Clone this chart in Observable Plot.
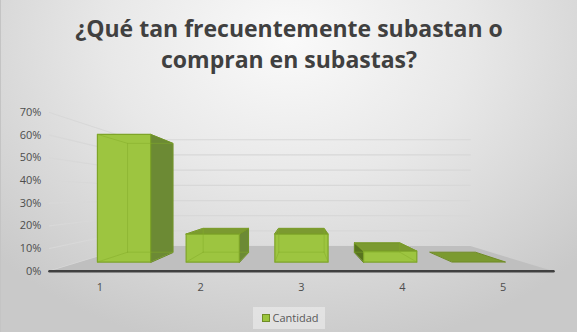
<!DOCTYPE html>
<html>
<head>
<meta charset="utf-8">
<script src="https://cdn.jsdelivr.net/npm/d3@7"></script>
<script src="https://cdn.jsdelivr.net/npm/@observablehq/plot@0.6"></script>
<style>
  html, body { margin: 0; padding: 0; }
  #chart {
    width: 577px; height: 332px; overflow: hidden; box-sizing: border-box;
    border-left: 1px solid #c4c4c4;
    background: radial-gradient(ellipse 70% 95% at 50% 12%, #fafafa 0%, #e8e8e8 45%, #c9c9c9 100%);
    font-family: "Open Sans", sans-serif;
  }
  #title {
    height: 85px; box-sizing: border-box; padding-top: 13px;
    text-align: center; font-weight: bold; font-size: 23px; line-height: 31px; color: #404040;
  }
  #plot svg { display: block; background: transparent; }
  #legend { height: 32px; text-align: center; padding-top: 5px; box-sizing: border-box; }
  #legend .box {
    display: inline-block; height: 22px; line-height: 22px; padding: 0 6px 0 9px;
    background: rgba(240,240,240,0.55); font-size: 11px; color: #595959;
  }
  #legend .sw {
    display: inline-block; width: 6px; height: 6px; background: #9bc53c; border: 1px solid #6f8c26;
    margin-right: 2px; vertical-align: -0px;
  }
</style>
</head>
<body>
<div id="chart">
  <div id="title">¿Qué tan frecuentemente subastan o<br>compran en subastas?</div>
  <div id="plot"></div>
  <div id="legend"><span class="box"><span class="sw"></span>Cantidad</span></div>
</div>
<script>
// ---- data ----
const categories = ["1", "2", "3", "4", "5"];
const values = [0.64, 0.14, 0.14, 0.055, 0];
const yTicks = [0, 0.1, 0.2, 0.3, 0.4, 0.5, 0.6, 0.7];
const seriesName = "Cantidad";

// ---- pseudo-3D projection in data space ----
const vpX = 3.0, vpV = 0.335;       // vanishing point (data units)
const sFront = 1, sBarFront = 0.88, sBarBack = 0.75, sWall = 0.67;
const halfW = 0.3;
const xMin = 0.5, xMax = 5.5;
const P = (X, V, s) => ({x: vpX + (X - vpX) * s, y: vpV + (V - vpV) * s});

function poly(id, pts) { return pts.map((p, k) => ({id, k, ...p})); }

// floor
const floor = poly("floor", [P(xMin, 0, sFront), P(xMax, 0, sFront), P(xMax, 0, sWall), P(xMin, 0, sWall)]);
const axisLine = poly("axis", [P(xMin, 0, sFront), P(xMax, 0, sFront)]);

// gridlines: left wall + back wall
const grid = yTicks.flatMap((t, i) =>
  poly("g" + i, [P(xMin, t, sFront), P(xMin, t, sWall), P(xMax, t, sWall)]));

// bars
const fronts = [], tops = [], rights = [], lefts = [], edges = [];
categories.forEach((c, i) => {
  const cx = i + 1, v = values[i];
  const L = cx - halfW, R = cx + halfW;
  const f = (X, V) => P(X, V, sBarFront), b = (X, V) => P(X, V, sBarBack);
  if (R < vpX && v > 0) rights.push(...poly("r" + i, [f(R, 0), f(R, v), b(R, v), b(R, 0)]));
  if (L > vpX && v > 0) lefts.push(...poly("l" + i, [f(L, 0), f(L, v), b(L, v), b(L, 0)]));
  if (v < vpV) tops.push(...poly("t" + i, [f(L, v), f(R, v), b(R, v), b(L, v)]));
  if (v > 0) {
    fronts.push(...poly("f" + i, [f(L, 0), f(R, 0), f(R, v), f(L, v)]));
    edges.push(...poly("eb" + i, [b(L, 0), b(R, 0), b(R, v), b(L, v), b(L, 0)]));
    [[L, 0], [R, 0], [R, v], [L, v]].forEach(([X, V], k) =>
      edges.push(...poly("ed" + i + k, [f(X, V), b(X, V)])));
  }
});

const chart = Plot.plot({
  width: 577, height: 215,
  marginLeft: 48, marginRight: 24, marginTop: 27, marginBottom: 29,
  style: {background: "transparent", fontFamily: "Open Sans, sans-serif"},
  x: {type: "linear", domain: [xMin, xMax], range: [48, 553]},
  y: {domain: [0, 0.7], range: [186, 27]},
  marks: [
    Plot.line(grid, {x: "x", y: "y", z: "id", stroke: "#d8d8d8", strokeWidth: 1.2}),
    Plot.line(floor, {x: "x", y: "y", z: "id", fill: "#bfbfbf", stroke: "none", curve: "linear-closed"}),
    Plot.line(axisLine, {x: "x", y: "y", z: "id", stroke: "#404040", strokeWidth: 2.5}),
    Plot.line(rights, {x: "x", y: "y", z: "id", fill: "#6c8a34", stroke: "#5f7d25", strokeWidth: 1, curve: "linear-closed"}),
    Plot.line(lefts, {x: "x", y: "y", z: "id", fill: "#58741f", stroke: "#4e6a1a", strokeWidth: 1, curve: "linear-closed"}),
    Plot.line(tops, {x: "x", y: "y", z: "id", fill: "#7b9a30", stroke: "#6f8c26", strokeWidth: 1, curve: "linear-closed"}),
    Plot.line(fronts, {x: "x", y: "y", z: "id", fill: "#9dc540", stroke: "#7ea428", strokeWidth: 1.2, curve: "linear-closed"}),
    Plot.line(edges, {x: "x", y: "y", z: "id", stroke: "#84ac2a", strokeWidth: 1, strokeOpacity: 0.5}),
    Plot.axisY({ticks: yTicks, tickFormat: d3.format(".0%"), tickSize: 0, tickPadding: 8, fontSize: 11, fill: "#4d4d4d", label: null}),
    Plot.axisX({ticks: categories.map((c, i) => i + 1), tickFormat: d => categories[d - 1], tickSize: 0, tickPadding: 12, fontSize: 11, fill: "#4d4d4d", label: null})
  ]
});
document.getElementById("plot").appendChild(chart);
document.querySelector("#legend .box").lastChild.textContent = seriesName;
</script>
</body>
</html>
